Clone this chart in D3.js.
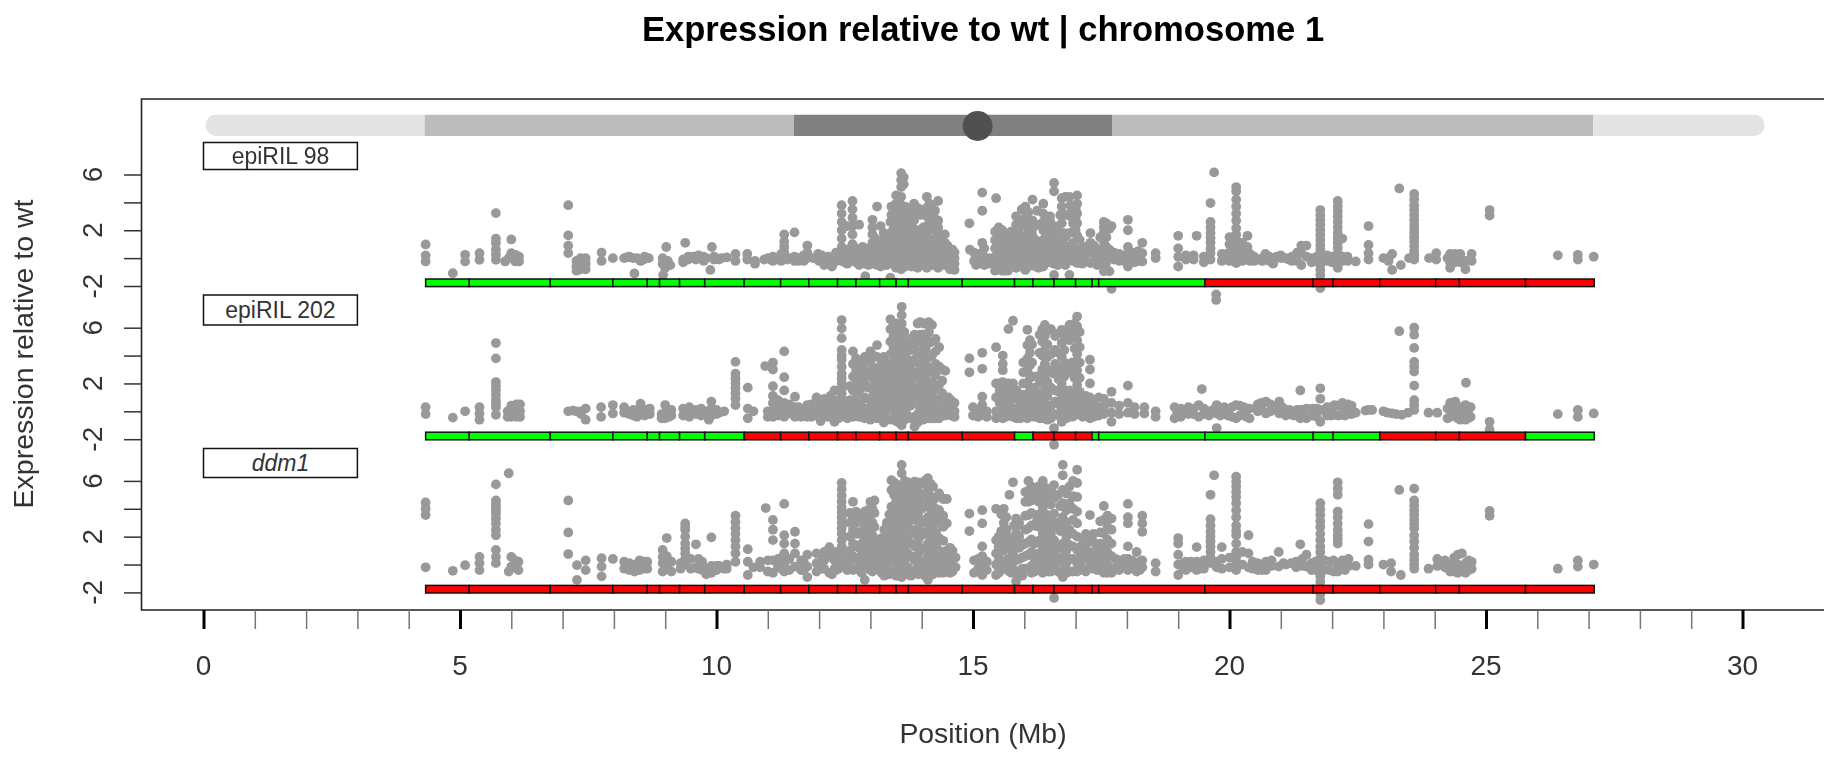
<!DOCTYPE html>
<html>
<head>
<meta charset="utf-8">
<title>Expression relative to wt</title>
<script src="https://cdnjs.cloudflare.com/ajax/libs/d3/7.8.5/d3.min.js"></script>
<style>
  html, body { margin: 0; padding: 0; background: #fff; overflow: hidden; }
  svg { display: block; filter: blur(0.35px); }
  text { font-family: "Liberation Sans", Arial, sans-serif; fill: #333; }
</style>
</head>
<body>
<script>
// panel names, top to bottom
var panelNames = ["epiRIL 98", "epiRIL 202", "ddm1"];

// chromosome ideogram bands (Mb), level 0 = pale .. 2 = dark
var bandStarts = [0.04, 4.31, 11.51, 17.72, 27.09];
var bandEnds = [4.31, 11.51, 17.72, 27.09, 30.43];
var bandLevels = [0, 1, 2, 1, 0];
var centromere = 15.09;

// genotype segments along the chromosome (Mb)
var segmentBreaks = [4.33, 5.18, 6.76, 7.98, 8.65, 8.89, 9.28, 9.77, 10.54, 11.25, 11.80, 12.36, 12.72, 13.18, 13.50, 13.74, 14.79, 15.81, 16.17, 16.58, 17.00, 17.32, 17.45, 19.52, 21.63, 22.02, 22.93, 24.02, 24.48, 25.77, 27.11];
// per panel status of each segment: g = wt, r = met1 derived
var statusRil98 = "gggggggggggggggggggggggrrrrrrr".split("");
var statusRil202 = "ggggggggrrrrrrrrrgrrrgggggrrrg".split("");
var statusDdm1 = "rrrrrrrrrrrrrrrrrrrrrrrrrrrrrr".split("");

// expression values: [position Mb, [values]]
var ril98 = [
  [4.33,[.98,.19,-.24]],[4.86,[-1.08]],[5.1,[.24,-.24]],[5.38,[.36,-.12]],
  [5.7,[3.23,1.39,1.08,.6,.24,-.12]],[5.88,[-.24]],[5.95,[0]],[6.0,[1.34,.36]],[6.08,[.24,-.24]],[6.15,[.1,-.24]],
  [7.11,[3.8,1.63,.89,.36]],[7.27,[-.2,-.6,-.9]],[7.35,[0,-.3,-.8]],[7.45,[0,-.4,-.8]],
  [7.76,[.4,-.2]],[7.98,[0]],[8.2,[0]],[8.3,[.1]],[8.4,[-1.1]],[8.45,[0]],[8.52,[-.2]],[8.6,[.1]],[8.68,[0]],
  [8.95,[0,-.4]],[8.96,[-1.2]],[9.0,[-.7]],[9.02,[.8]],[9.05,[-.2]],[9.1,[-.5]],
  [9.35,[-.1,-.3]],[9.39,[1.1]],[9.45,[.1,-.1]],[9.55,[.1]],[9.65,[.2]],[9.7,[0]],[9.8,[0]],[9.88,[-.85]],[9.91,[.8]],[10.0,[0]],[10.1,[0]],
  [10.37,[.3,-.2]],[10.6,[.3,-.1]],[10.75,[-.2,-.4]],[10.93,[-.1]],[11.0,[0]],[11.1,[.1,-.2]],
  [11.2,[0]],[11.32,[1.7,1.2,.8,.4,0]],[11.45,[0]],[11.52,[1.85]],[11.6,[0,-.2]],[11.77,[.9,.4,0]],[11.88,[0]],
  [11.98,[.3,-.1]],[12.1,[-.2,-.5]],[12.25,[-.6]],[12.3,[.1]],[12.33,[.4]],
  [12.44,[3.8,3.2,2.6,2,1.4,.8,.2,-.2]],[12.55,[2.3,.6,0,-.4]],[12.65,[4.1,3.5,2.9,2.3,1.7,1,.4,-.2]],[12.78,[2.4,.5,0,-.5]],
  [12.9,[.7,.1,-.4,-1.3]],[13.04,[2.75,2.2,1.7,1.1,.5,0,-.4]],[13.13,[3.7,.6,0,-.5]],[13.26,[1.8,1.3,.7,.1,-.5]],
  [13.39,[2.6,1.8,1,.3,-.3,-1.4]],[13.41,[3.7,3.1]],[13.5,[4.5,3.9,3.2,2.5,1.7,1,.4,-.2,-.7]],
  [13.6,[6.1,5.6,5.1,4.4,3.8,3.1,2.4,1.7,1,.3,-.3,-.8]],[13.65,[5.8,5.3,3.3,1.5]],[13.75,[3.4,2.7,1.9,.9,.2,-.4]],
  [13.85,[3.9,3.3,2.7,2,1.3,.7,.1,-.4]],[13.97,[3.5,3.1,1.9,1.3,.7,.1,-.5]],[14.1,[4.4,3.6,3,2.3,1.6,1,.4,-.2,-.7]],
  [14.2,[3.7,3.1,2.5,1.2,.5,0,-.5]],[14.32,[4.1,2.7,2.2,1.7,1,.4,-.2,-.7]],[14.45,[1.7,1.1,.5,0,-.5]],[14.55,[.5,0,-.5,-.8]],[14.64,[.4,0,-.4,-.85]],
  [14.93,[2.5]],[14.94,[.6]],[15.02,[.4,-.2]],[15.1,[.3,-.4]],[15.18,[4.7,3.4,1.1,.3,-.2]],[15.3,[0,-.4]],
  [15.43,[1.9,1.3,.7,.1,-.4,-.9]],[15.45,[4.3]],[15.57,[2,1.1,.5,.1,-.4,-.9]],[15.68,[1.5,.7,0,-.9]],
  [15.84,[3,2.4,2,1.5,1.1,.5,.1,-.4,-.7]],[15.95,[3.5,2.4,1.4,.6,0,-.5]],[16.02,[3.7,2.9,2.3,1.3,.6,.1,-.85]],
  [16.16,[4.2,2.7,2.1,1.6,.9,.1,-.5]],[16.28,[1,.4,-.2,-.7]],[16.37,[3.9,3.2,2.6,2,1.3,.4,-.1,-.6]],[16.47,[2.1,1.1,.4,-.3]],
  [16.58,[5.4,4.8,2.3,1.3,.7,.1,-.4,-1.2]],[16.73,[4.3,3.7,2.5,1.8,1.2,.8,.2,-.1]],[16.8,[4.4,3.1,1.5,.6,0,-.5]],
  [16.88,[4.4,3.2,1.8,.8,-.1,-1.2]],[17.03,[4.5,3.9,3.2,2.5,1.6,.6,0,-.35]],[17.13,[.7,.1,-.4]],
  [17.29,[1.8,1.1,.4,-.35]],[17.42,[.5,0,-.5]],[17.55,[2.6,1.8,1.2,.8,0,-.1,-.95]],[17.66,[2.1,.6,0,-.95]],[17.7,[2.3,-2.2]],
  [17.85,[.3,-.2]],[18.02,[2.75,2,.8,.3,-.6]],[18.15,[.4,0,-.3]],[18.3,[1.1,.36,-.24]],[18.56,[.36,0]],
  [19.0,[1.6,.7,.1,-.6]],[19.15,[.2,-.1]],[19.3,[.2,-.1]],[19.36,[1.6]],[19.5,[.1,-.3]],
  [19.63,[3.95,2.6,1.8,1.1,.36,-.1]],[19.7,[6.15]],[19.74,[-2.6,-3]],[19.85,[.3,-.2]],[20.0,[1.5,1,.4,-.2]],
  [20.13,[5.1,4.8,4.2,3.7,3.2,2.15,1.3,.36,-.35]],[20.25,[1.1,.4,-.2]],[20.35,[1.6,.8,-.1]],[20.48,[.1,-.2]],
  [20.64,[0,-.2]],[20.7,[.3]],[20.85,[0,-.4]],[21.0,[.2,0]],[21.15,[0,-.1]],[21.32,[.4,-.2]],[21.4,[.9,.36,-.5]],[21.5,[.9,.1]],[21.6,[0,-.3]],
  [21.77,[3.45,2.75,2,1.3,.6,-.1,-.85,-1.55,-2.15]],[21.9,[.2,-.2]],
  [22.11,[4.1,3.35,2.6,1.8,1.1,.36,-.24,-.7]],[22.2,[1.4,.1]],[22.3,[.1,-.2]],[22.46,[-.24]],
  [22.71,[2.3,.95,.36,-.1]],[23.0,[0]],[23.1,[0,-.2]],[23.17,[.3,-.85]],[23.31,[5]],[23.34,[-.5]],
  [23.6,[4.6,3.8,3.1,2.4,1.8,1.2,.5,-.1]],[23.5,[0]],[23.89,[0]],[24.03,[.36,-.1]],
  [24.3,[.3,-.3,-.7]],[24.4,[.3,0,-.3]],[24.5,[.3,0,-.3]],[24.6,[-.2,-.8]],[24.72,[.3,-.2]],
  [25.07,[3.45,3.05]],[26.4,[.2]],[26.79,[.24,-.1]],[27.1,[.1]]
];
// points packed inside the dense clouds and stacks of the same line
var ril98Cloud = [
  [12.38,[.4,-.1]],[12.5,[.3,-.3]],[12.6,[.5,-.1]],[12.72,[.7,.2,-.3]],[12.85,[.8,.3,-.2]],[12.96,[.6,.1,-.5]],
  [13.1,[1.4,.9,.3,-.2]],[13.2,[2.3,1,.4,-.2,-.6]],[13.32,[1.4,.9,.4,-.1,-.5]],
  [13.45,[3.4,2.8,2.1,1.4,.7,.1,-.4]],[13.55,[3.5,2.8,2.1,1.3,.7,.1,-.5,-.6]],[13.68,[3.7,3,2.3,1.6,1,.5,-.1,-.6]],
  [13.8,[3.6,3,2.3,1.6,1,.4,-.2,-.6]],[13.92,[3.6,2,1.5,.9,.3,-.3,-.7]],[14.03,[3.4,2.2,1.6,.9,.3,-.3]],
  [14.15,[3.9,2.8,2,1.3,.7,.1,-.5]],[14.26,[3.4,2.8,2,1.4,.7,.1,-.4]],[14.38,[1.4,.8,.2,-.3]],[14.5,[.9,.3,-.2]],[14.6,[.6,.2,-.3]],
  [15.06,[.1,-.5]],[15.22,[.7,0,-.5]],
  [15.5,[2.2,1.6,.9,.3,-.2,-.7]],[15.62,[1.6,.8,.3,-.2,-.9]],[15.74,[1.9,1.1,.5,0,-.5]],[15.9,[2.7,1.8,1.1,.3,-.2,-.6]],
  [16.08,[3.3,2.6,1.8,1,.4,-.2,-.6]],[16.22,[1.3,.6,0,-.6]],[16.25,[3.4,2.4]],[16.33,[.9,.2,-.3]],[16.42,[2.3,1.7,1,.4,-.2]],
  [16.5,[3,2.7]],[16.52,[1.8,.9,.3,-.3]],[16.65,[1.9,1.2,.6,0,-.5]],[16.7,[3.1]],[16.78,[1.8,.9,.3,-.3]],[16.9,[3.8,3]],[16.95,[2.5,1.9,1.1,.4,-.2]],
  [17,[3.5,2.8,2]],[17.08,[1.3,.3,-.2]],[17.2,[.8,.3,-.2]],[17.36,[.9,.3,-.3]],[17.48,[1.5,.6,0,-.4]],[17.55,[2.2,1.5]],[17.6,[2.5,1.5,.8,.3,-.3,-.8]],
  [17.75,[.4,-.1]],[17.95,[.2,-.2]],[18.08,[.1,-.3]],[18.22,[.5,.1,-.2]],
  [8.25,[.05]],[8.37,[0]],[8.58,[-.1]],[9.5,[0]],[9.6,[.1,-.1]],[9.75,[.1,-.2]],[9.95,[.1,-.1]],[10.05,[-.1]],[10.2,[.05]],
  [11.05,[-.1]],[11.15,[-.1]],[11.26,[.3,-.2]],[11.38,[-.1]],[11.52,[.1,-.2]],[11.7,[.2,-.2]],[12,[-.2]],[12.05,[.2]],[12.18,[.1,-.3]],[12.3,[-.3]],
  [19.63,[2.2,1.45,.7]],[19.95,[0,.3]],[20.1,[.1,-.2]],[20.13,[2.7,1.7,.8]],[20.2,[.6]],[20.4,[.3,-.2]],[20.55,[-.1]],[20.78,[.1,-.2]],[20.92,[.1]],
  [21.08,[0]],[21.22,[.1,-.2]],[21.7,[.1,-.2]],[21.77,[3.1,2.4,1.65,.95,.25,-.5,-1.2,-1.85]],[22,[.1,-.3]],[22.11,[3.7,3,2.2,1.45,.75]],[22.2,[-.2]],
  [23.6,[4.2,3.45,2.75,2.1,1.5,.85,.2]],[24.25,[0]]
];

var ril202 = [
  [4.33,[.3,-.2]],[4.86,[-.45]],[5.1,[0]],[5.38,[.3,-.15,-.6]],[5.7,[4.9,3.8,2.1,1.5,.8,.3,-.25]],
  [5.93,[0,-.4]],[6.0,[.4,0,-.4]],[6.1,[.5,0,-.4]],[6.17,[.5,0,-.4]],
  [7.11,[0]],[7.27,[0]],[7.45,[.2,-.6]],[7.75,[.3,-.4]],[7.98,[.45,-.15]],
  [8.2,[.3,-.1]],[8.3,[-.2]],[8.45,[0,-.4]],[8.52,[.55,.1]],[8.6,[.1,-.3]],
  [8.93,[-.2,-.5]],[9.0,[.45,-.15,-.5]],[9.07,[0,-.4]],[9.35,[.2,-.3]],[9.47,[.3,-.4]],[9.6,[.1,-.2]],[9.7,[.2,-.3]],
  [9.85,[-.6]],[9.9,[.7,.2,-.3]],[10.0,[.1,-.2]],[10.15,[0]],
  [10.37,[3.55,2.7,2,1.3,.45]],[10.61,[1.7,.2,-.5]],[10.72,[0]],[10.95,[3.25]],[11.0,[0,-.4]],
  [11.1,[3.5,3,1.8,1.1,.6,-.4]],[11.2,[.8,.2,-.3]],[11.32,[4.3,2.45,1.5,.6,-.4]],[11.42,[.5,0]],[11.53,[1.05,.3,-.4]],[11.65,[.1,-.4]],[11.77,[.45,-.4]],
  [12.03,[.8,0,-.7]],[12.17,[.2,-.4]],[12.3,[1.5,.8,.1,-.75]],
  [12.44,[6.55,5.95,5.25,4.4,3.7,2.7,2,1.3,.6,-.15]],[12.55,[.6,-.15,-.5]],[12.66,[4.3,3.4,2.5,1.5,.6,-.4]],[12.78,[3,2.1,1.2,.3,-.4]],
  [12.89,[3.9,2.9,2,1,.1,-.5]],[13,[4.3,3.5,2.6,1.7,.8,-.1,-.6]],[13.13,[4.75,3.9,2.9,2,1,.1,-.5]],[13.26,[3.9,3,2.1,1.2,.3,-.4,-.8]],
  [13.39,[6.6,5.9,5,4.1,3.2,2.3,1.3,.4,-.6]],[13.5,[6.3,5.4,4.5,3.6,2.7,1.8,.9,0,-.7]],
  [13.61,[7.5,6.9,6.3,5.2,4.3,3.3,2.4,1.4,.5,-.5,-1]],[13.71,[4.9,3.8,2.7,1.7,.8,-.2]],
  [13.86,[5.5,4.7,3.7,2.8,1.7,.8,-.4,-1.1]],[13.97,[6.4,5.5,4.3,3,2.2,1.2,.2,-.5]],[14.08,[6.3,5.4,4.4,3.4,2.5,1.5,.6,-.4]],
  [14.2,[6.2,5,4,3.1,2.1,1.3,.4,-.5]],[14.34,[4.6,3.2,1.9,.9,0,-.5]],[14.46,[2.9,1,.3,-.3]],[14.57,[.8,.1,-.3]],[14.64,[.6,0,-.4]],
  [14.93,[3.8,2.8]],[15,[.3,-.3]],[15.1,[.1,-.4]],[15.18,[4.2,3.05,1.05,.45,-.25]],[15.27,[0,-.4]],
  [15.45,[4.6,2,1,0,-.5]],[15.58,[4,3.4,2.95,2.1,1,0,-.5]],[15.69,[5.9,2,1,-.3]],[15.78,[6.5,2,1,0,-.4]],
  [15.92,[.8,0,-.5]],[16.06,[5.85,4.75,3.8,2.9,2,1,.1,-.5]],[16.15,[4.8,3.5,2.5,1.5,.5,-.3]],
  [16.4,[6.2,5.4,4.4,3.4,2.5,1.5,.6,-.4]],[16.3,[5.5,4.2,2,1,0,-.5]],[16.52,[5.9,4.1,2.8,1.7,.4,-.5]],[16.58,[2.7,-1.2,-1.7,-2.4]],
  [16.73,[5.85,4.9,3.9,3,2,1,.1,-.75]],[16.82,[5.6,3.2,1.2,.4,-.5]],[16.93,[5.7,3.5,2.9,.8,0,-.4]],
  [17.03,[6.8,6.1,5.1,4.1,2.95,1.9,1,.1]],[17.14,[.9,.2,-.4]],[17.28,[3.7,3,2,1,.1,-.5]],[17.45,[1,.3,-.3]],
  [17.7,[1.4,.6,-.1,-.75]],[17.85,[.4,-.2]],[18.02,[1.85,.6,-.1]],[18.15,[.3,-.2]],[18.34,[.3,-.15]],[18.56,[0,-.4]],
  [18.93,[.3,-.5]],[19.05,[.2,-.4]],[19.2,[.3,-.2]],[19.4,[.45,-.4]],[19.46,[1.6]],[19.6,[0,-.3]],[19.75,[.45,-.15,-1.2]],
  [19.9,[.3,-.2]],[20.13,[.45,-.5]],[20.28,[.3,-.15]],[20.39,[.2,-.5]],[20.71,[.7,-.15]],[20.55,[.5,0]],
  [20.97,[.7,-.15]],[21.1,[.1,-.3]],[21.25,[0,-.3]],[21.38,[1.5,.1,-.5]],[21.5,[.2,-.5]],
  [21.77,[1.65,.9,.1,-.75]],[21.9,[.3,-.3]],[22.05,[.45,-.25]],[22.2,[.6,-.25]],[22.31,[.5,-.2]],[22.46,[-.1]],[22.71,[.1]],
  [23,[0]],[23.17,[-.15]],[23.31,[5.75]],[23.36,[-.25]],[23.6,[6,5.5,4.55,3.55,2.85,1.85,.8,.1]],[23.88,[-.1]],[24.05,[-.1]],
  [24.3,[.6,-.4]],[24.4,[.7,-.15]],[24.5,[.3,-.6]],[24.6,[.45,-.6]],[24.61,[2.05]],[24.7,[.3,-.4]],
  [25.07,[-.75,-1.3]],[26.4,[-.2]],[26.79,[.1,-.4]],[27.1,[-.15]]
];
var ril202Cloud = [
  [11.85,[.5,0,-.4]],[11.95,[1,.3,-.3]],[12.1,[.9,.4,-.1]],[12.22,[1.1,.4,-.3]],[12.38,[.5,-.1,-.5]],
  [12.6,[1.8,.8,.2,-.3]],[12.72,[3.8,3,2.3,1.7,.9,.3,-.3]],[12.84,[3.4,2.5,1.7,.9,.3,-.4]],[12.95,[3.5,2.6,1.7,.9,.2,-.3]],
  [13.06,[4,3.1,2.3,1.4,.5,-.2]],[13.2,[3.3,2.5,1.6,.7,0,-.5]],[13.32,[3.4,2.6,1.8,.9,.1,-.5]],
  [13.45,[6.2,5.4,4.6,3.7,2.8,1.9,1,.1,-.5]],[13.55,[5.8,4.9,4,3.1,2.2,1.4,.5,-.3,-.8]],[13.66,[5.7,4.8,3.9,2.9,2,1,.1,-.6]],
  [13.78,[5.2,4.4,3.3,2.2,1.3,.4,-.5]],[13.92,[6.3,5.2,4.1,3.5,2.4,1.5,.6,-.2,-.8]],[14.03,[6.3,5.5,4.9,3.8,2.9,2,1.1,.1,-.6]],
  [14.14,[6.4,5.7,4.9,3.9,2.9,2,1,.1,-.5]],[14.27,[5.2,4.3,3.4,2.6,1.6,.8,.1,-.5]],[14.4,[3,2.2,1.3,.5,-.2]],[14.52,[1,.4,-.2]],
  [15.52,[2,1.5,.6,-.2]],[15.64,[1.6,.7,.1,-.4]],[15.72,[1.4,.5,-.2]],[15.85,[1.5,.9,.2,-.5]],[15.98,[3.5,2.8,2,1.2,.4,-.3]],
  [16.11,[5.1,4.2,3.3,2.4,1.5,.6,-.2]],[16.2,[1.7,.9,.1,-.4]],[16.25,[2.5,1.3,.5,-.3]],[16.35,[5.9,5,4,3,2,1,.2,-.5]],
  [16.45,[5.8,4.8,3.9,3,2.1,1.1,.1,-.6]],[16.6,[5.4,4.4,3.4,1.5,.7,-.2]],[16.67,[5.6,4.2,3,2.3,1.4,.5,-.3]],
  [16.78,[5.4,4.4,3.5,2.5,1.5,.6,-.2]],[16.88,[6.2,5.1,2.8,1.5,.6,-.2]],[16.98,[6.3,5.5,4.5,3.5,2.4,1.4,.5,-.3]],
  [17.08,[5.7,4.6,3.5,2.4,1.4,.5,-.2]],[17.2,[1.1,.4,-.2]],[17.35,[.7,.1,-.4]],[17.55,[.9,.3,-.2]],
  [5.7,[1.8,1.15,.55]],[10.37,[2.35,1.65,.9]],[12.44,[4,3.2,2.35,1.65,.95,.25]],[23.6,[3.2,.45]],
  [7.2,[.05]],[7.36,[0,-.2]],[8.25,[.05]],[8.38,[.1,-.3]],[8.7,[.2,-.2]],[9.12,[.1,-.3]],[9.4,[0]],[9.55,[-.1]],[9.78,[0]],[10.05,[-.1]],
  [11.12,[.1]],[11.27,[.3,-.1]],[11.48,[.1,-.2]],[11.6,[.3,-.2]],[11.72,[.2,-.3]],
  [18.98,[-.1]],[19.12,[-.1]],[19.3,[.2,-.2]],[19.5,[.2,-.2]],[19.68,[.1]],[19.82,[.2,-.3]],[19.97,[.1,-.3]],[20.05,[.3,-.4]],[20.2,[.4,-.3]],[20.33,[.2,-.4]],
  [20.62,[.6,.2]],[20.8,[.5,0]],[20.9,[.3]],[21.03,[.3,-.1]],[21.17,[.1,-.2]],[21.32,[.1,-.3]],[21.45,[.1,-.4]],[21.62,[.2,-.3]],[21.7,[.2,-.4]],
  [21.98,[.3,-.3]],[22.12,[.4,-.3]],[22.25,[.2,-.3]],[22.38,[.4,-.2]],[22.65,[.05]],[22.78,[.1]],[23.08,[-.1]],[23.25,[-.2]],[23.48,[-.1]],
  [24.25,[.2,-.5]],[24.35,[.2,-.3]],[24.45,[0,-.5]],[24.55,[.1,-.5]],[24.65,[0,-.5]]
];

var ddm1 = [
  [4.33,[4.45,4,3.55,-.2]],[4.86,[-.45]],[5.1,[-.05]],[5.38,[.55,.1,-.4]],[5.7,[5.75,4.6,4.15,3.65,2.95,2.1,1.05,.55,.1]],
  [5.95,[6.55,-.5]],[6,[.55,-.15]],[6.07,[.3,-.2]],[6.14,[.2,-.4]],
  [7.11,[4.6,2.3,.75]],[7.28,[-.05,-1.1]],[7.45,[.3,-.4]],[7.76,[.45,-.15,-.85]],[7.98,[.4]],
  [8.2,[.2,-.3]],[8.4,[0,-.5]],[8.5,[.3,-.4]],[8.65,[.2,-.3]],
  [8.95,[1.05,.55,.1,-.5]],[9.03,[1.9,.6,0]],[9.12,[.2,-.5]],[9.39,[2.95,2.5,1.5,.8,0]],[9.5,[.4,-.3]],[9.6,[1.45,-.2]],
  [9.72,[.2,-.4]],[9.8,[-.3,-.7]],[9.9,[1.95,-.1,-.6]],[10,[-.1,-.4]],[10.15,[-.3]],
  [10.37,[3.5,2.6,1.75,.8,.2]],[10.61,[1.1,.2,-.75]],[10.72,[-.2]],[10.96,[4.05]],[11,[.3,-.5]],
  [11.1,[3.2,2.5,1.75,.3,-.6]],[11.2,[.4,-.2]],[11.32,[4.35,2.1,1.5,.8,0,-.5]],[11.42,[.4,-.4]],[11.53,[2.35,1.5,.8,-.15]],
  [11.65,[.3,-.4]],[11.77,[.7,-.15,-.9]],[12.07,[.55,-.3]],[12.2,[1.25,.6,-.6]],[12.25,[.5,-.7]],[12.33,[.5,-.4]],
  [12.44,[5.85,4.95,4.1,3.4,2.6,1.75,.8,0]],[12.55,[.9,.2,-.4]],[12.66,[4.5,3.45,2.5,1.5,.6,-.4]],[12.78,[3.3,2.2,1.2,.3,-.4]],
  [12.89,[3.8,2.95,2,1.05,.1,-1.1]],[13,[4.5,3.6,2.5,1.5,.5,-.4]],[13.08,[4.6,3.7,2.7,1.75,.8,-.15]],[13.22,[1.9,1,.1,-.6]],
  [13.32,[3,2,1,0,-.6]],[13.41,[6.05,5.35,4.15,3.2,2.2,1.3,.3,-.6]],[13.5,[5.6,4.5,3.5,2.5,1.5,.6,-.3,-.8]],
  [13.61,[7.15,6.55,5.6,4.6,3.7,2.7,1.75,.8,-.15,-.9]],[13.73,[5.9,4.9,3.8,2.8,1.8,.8,-.2,-.7]],
  [13.86,[5.95,5.1,4.1,3.2,2.2,1.3,.3,-.6]],[14,[5.8,4.9,4,3,2.1,1.1,.1,-.6]],[14.12,[6.2,5.35,4.4,3.4,2.5,1.5,.6,-.4,-1.1]],
  [14.22,[5.6,4.6,3.6,2.6,1.7,.8,-.2,-.7]],[14.34,[5.1,3.9,3,1.9,1,.1,-.6]],[14.49,[4.7,2.95,1,.3,-.5]],[14.6,[1,.1,-.5]],[14.66,[.5,-.2]],
  [14.93,[3.65,2.4]],[15.02,[.3,-.6]],[15.1,[.4,-.3]],[15.18,[3.9,2.95,1.3,.6,-.15,-.75]],[15.27,[.2,-.4]],
  [15.45,[4,1.75,.8,0,-.75]],[15.52,[1.2,.3,-.5]],[15.6,[4,3,2.1,1,.1]],[15.71,[5,1.2,.2,-.5]],[15.78,[5.9,.8,-.3]],
  [15.84,[3.3,2.25,1.3,.3,-.6,-1.2]],[15.96,[1.4,.5,-.3,-.8]],[16.08,[6,5.3,4.5,3.55,2.6,1.6,.7,-.3]],[16.2,[5.1,2.8,1.5,.4,-.5]],
  [16.36,[6,5.1,4.1,3.2,2.2,1.3,.3,-.6]],[16.47,[4.8,3.5,1.9,.9,0,-.5]],[16.58,[5.7,4.75,3.65,2.7,1.75,.8,-.15,-2.4]],
  [16.66,[5,3,1.2,.2,-.5]],[16.75,[7.15,6.4,5.35,4.4,3.4,2.5,1.5,.6,-.4,-.9]],[16.88,[5.6,4.4,2.5,1.4,.4,-.5]],
  [17.03,[6.8,5.85,4.85,3.8,2.95,2,1.05,.1,-.5]],[17.15,[1.6,.4,-.4]],[17.28,[3.55,1.75,.8,-.15]],[17.42,[1.1,.3,-.4]],
  [17.55,[4.2,3.2,2.25,1.3,.3,-.6]],[17.7,[3.3,2.5,1.5,.6,-.6]],[17.85,[.3,-.4]],[18.02,[4.35,3.4,2.95,1.3,.4,-.4]],
  [18.19,[.9,.1,-.5]],[18.3,[3.5,2.95,2.35,.3,-.2]],[18.56,[.1,-.5]],
  [19,[1.9,1.5,.7,0,-.75]],[19.15,[.2,-.4]],[19.36,[1.25,.2,-.4]],[19.5,[.3,-.3]],[19.63,[5,3.25,2.35,1.65,.9,.1]],[19.7,[6.4]],
  [19.85,[1.25,.4,-.3]],[20.13,[6.3,5.6,4.85,3.9,2.8,2.1,.9,.1,-.4]],[20.25,[.9,0]],[20.37,[2.1,.8,-.2]],[20.55,[.1,-.4]],
  [20.71,[.2,-.4]],[20.96,[.9,-.15]],[21.1,[0]],[21.38,[1.45]],[21.3,[.2,-.2]],[21.5,[.7,-.15]],[21.6,[.1,-.4]],
  [21.77,[4.4,3.55,2.7,1.75,.9,0,-.85,-1.7,-2.55]],[21.95,[.2,-.4]],[22.11,[5.9,5,3.8,2.95,2.1,1.5,0,-.5]],[22.25,[.2,-.4]],
  [22.46,[-.1]],[22.71,[2.9,1.65,.35,0]],[23,[0]],[23.15,[.1,-.5]],[23.31,[5.35]],[23.34,[-.75]],
  [23.6,[5.45,4.6,3.9,3.2,2.6,1.65,.7,0,-.3]],[23.88,[-.3]],[24.05,[.4,-.1]],
  [24.3,[0,-.5]],[24.45,[.7,0,-.6]],[24.6,[.1,-.6]],[24.72,[.2,-.3]],
  [25.07,[3.85,3.5]],[26.4,[-.3]],[26.79,[.3,-.15]],[27.1,[0]]
];
var ddm1Cloud = [
  [11.95,[.8,.1,-.5]],[12.1,[.9,.3,-.3]],[12.3,[.9,.3,-.3]],[12.38,[.8,.2,-.3]],[12.6,[3.7,3,2,1,.2]],
  [12.72,[3.8,3,2.2,1.3,.4,-.3]],[12.83,[3.1,2.4,1.5,.7,-.1,-.6]],[12.95,[3.9,3.3,2.5,1.6,.7,-.1]],[13.04,[4,3,2.1,1.1,.2,-.5]],
  [13.16,[1.5,.6,-.2]],[13.27,[2.5,1.4,.5,-.3,-.8]],[13.37,[3.6,2.7,1.8,.9,.1,-.7]],[13.46,[5.9,5,4.1,3,2,1,.1,-.6]],
  [13.55,[5.7,5,4,3,2.1,1.1,.2,-.4,-.8]],[13.67,[6,5.1,4.2,3.3,2.3,1.3,.3,-.5]],[13.79,[5.5,4.5,3.5,2.5,1.5,.6,-.4,-.8]],
  [13.93,[5.9,5.3,4.5,3.5,2.6,1.7,.7,-.2,-.7]],[14.06,[6,5,4.2,3.1,2.2,1.2,.2,-.5,-.8]],[14.17,[5.8,4.9,4,3,2,1.1,.1,-.6]],
  [14.28,[4.8,4,3.3,2.3,1.4,.5,-.4]],[14.42,[4.7,3.5,2.7,1.7,.7,-.1,-.6]],[14.55,[1.2,.5,-.2,-.6]],
  [15.5,[2,1.5,1.3,.6,.2,-.2,-.6]],[15.55,[3.6,2.4,1.6]],[15.65,[3.4,2.5,1.6]],[15.68,[2,1.2,.4,-.4]],[15.75,[.3,-.6]],[15.8,[2.8,1.8]],[15.87,[2.8,1.7]],
  [15.9,[3,2,1.2,.4,-.5]],[16.02,[5.2,4.5,3.5,2.5,1.5,.6,-.3]],[16.1,[4.9]],
  [16.14,[5.6,4.6,3.7,2.8,1.8,.9,-.1,-.6]],[16.25,[4.8,3.2]],[16.28,[5.6,4.5,3.6,2.7,1.7,.8,-.2]],[16.42,[5.5,4.6,3.6,2.7,1.6,.7,-.3]],
  [16.52,[5.3,4.3,3.2,2.2,1.2,.3,-.5]],[16.7,[4.2,2.4,1.3,.3,-.6]],[16.82,[5.1,3.9,3,2,1,.1,-.6]],[16.95,[6,4.9,4,3.2,2.2,1.3,.4,-.5]],
  [17.1,[1.3,.6,-.1]],[17.2,[2.2,1.2,.9,.4,-.5]],[17.35,[2.2,1.6,.9,.3,-.3]],[17.48,[3.1,2.3,1.5,.7,0]],[17.62,[3.5,2.7,1.8,.9,0,-.6]],
  [17.78,[.4,-.2]],[17.95,[.4,-.1]],[18.1,[.3,-.2]],[18.25,[.2,-.4]],
  [5.7,[4.35,3.9,3.3,2.5]],[9.39,[2.7,2,1.15,.4]],[10.37,[3.05,2.2,1.3]],[12.44,[5.4,4.5,3.75,3,2.2,1.3,.4]],
  [8.3,[.1,-.4]],[8.58,[.2,-.3]],[9.3,[.1,-.3]],[9.65,[.4,-.3]],[9.85,[-.5]],[10.05,[-.1]],[10.2,[0,-.3]],[10.85,[.2,-.2]],[11.27,[.5,-.3]],[11.7,[.2,-.4]],
  [19.1,[.1,-.3]],[19.25,[.2,-.2]],[19.42,[.1,-.3]],[19.63,[2.8,2,1.3,.5]],[19.75,[.2,-.2]],[20,[.5,-.2]],[20.13,[5.95,5.2,4.4,3.4,2.4,1.5,.5]],
  [20.45,[.2,-.3]],[20.63,[-.1,-.4]],[20.82,[.3,-.1]],[21.05,[.1]],[21.2,[.1]],[21.42,[.4,-.1]],[21.68,[.2,-.4]],
  [21.77,[3.95,3.1,2.2,1.3,.45,-.4,-1.25,-2.1]],[21.85,[.3,-.4]],[22.03,[.3,-.5]],[22.11,[5.45,3.4,2.5,1.8]],[22.2,[.3,-.3]],[22.32,[.4,-.1]],
  [23.6,[4.25,3.55,2.9,2.1,1.2,.35]],[24.2,[.3,-.2]],[24.38,[.5,-.5]],[24.53,[.8,-.3]],[24.66,[.3,-.4]]
];
var panelData = [ril98.concat(ril98Cloud), ril202.concat(ril202Cloud), ddm1.concat(ddm1Cloud)];
var panelStatus = [statusRil98, statusRil202, statusDdm1];

var xTicks = d3.range(0, 31);
var xLabelled = [0, 5, 10, 15, 20, 25, 30];
var yTicks = [-2, 0, 2, 4, 6];
var yLabelled = [-2, 2, 6];

var width = 1824, height = 757;
var panelStep = 153.2;

var svg = d3.select("body").append("svg")
    .attr("width", width)
    .attr("height", height);

var x = d3.scaleLinear().domain([0, 30]).range([203.5, 1742.5]);
var bandColor = d3.scaleOrdinal().domain([0, 1, 2]).range(["#e4e4e4", "#bcbcbc", "#808080"]);
var statusColor = d3.scaleOrdinal().domain(["g", "r"]).range(["#00ff00", "#ff0000"]);

// title and axis titles
svg.append("text")
    .attr("x", 983).attr("y", 41)
    .attr("text-anchor", "middle")
    .style("font-size", "34.6px").style("font-weight", "bold").style("fill", "#000")
    .text("Expression relative to wt | chromosome 1");
svg.append("text")
    .attr("x", 983).attr("y", 743)
    .attr("text-anchor", "middle")
    .style("font-size", "28.4px")
    .text("Position (Mb)");
svg.append("text")
    .attr("transform", "translate(33,354) rotate(-90)")
    .attr("text-anchor", "middle")
    .style("font-size", "28.5px")
    .text("Expression relative to wt");

// plot frame, runs off the right of the picture
svg.append("path")
    .attr("d", "M" + width + ",99H141.5V610H" + width)
    .attr("fill", "none").attr("stroke", "#222").attr("stroke-width", 1.6);

// chromosome ideogram
var bandY = 114.5, bandH = 21.5;
var clipId = svg.append("clipPath").attr("id", "chromClip");
clipId.append("rect")
    .attr("x", x(bandStarts[0])).attr("y", bandY)
    .attr("width", x(bandEnds[bandEnds.length - 1]) - x(bandStarts[0]))
    .attr("height", bandH).attr("rx", bandH / 2);
svg.append("g").attr("clip-path", "url(#chromClip)")
    .selectAll("rect").data(bandStarts).enter().append("rect")
    .attr("x", function(d){ return x(d); })
    .attr("y", bandY)
    .attr("width", function(d, i){ return x(bandEnds[i]) - x(d); })
    .attr("height", bandH)
    .attr("fill", function(d, i){ return bandColor(bandLevels[i]); });
svg.append("ellipse")
    .attr("cx", x(centromere)).attr("cy", 126)
    .attr("rx", 15).attr("ry", 15)
    .attr("fill", "#505050");

// one row per line
panelNames.forEach(function(name, p){
    var dy = p * panelStep;
    var y = d3.scaleLinear().domain([-2, 6]).range([286 + dy, 174.5 + dy]);

    var yAxis = d3.axisLeft(y).tickValues(yTicks).tickSize(17.5).tickFormat("");
    var axisG = svg.append("g").attr("transform", "translate(141.5,0)").call(yAxis);
    axisG.select(".domain").remove();
    axisG.selectAll("line").attr("stroke", "#333").attr("stroke-width", 1.5);
    axisG.selectAll(".lab").data(yLabelled).enter().append("text")
        .attr("class", "lab")
        .attr("transform", function(d){ return "translate(-40," + y(d) + ") rotate(-90)"; })
        .attr("text-anchor", "middle")
        .style("font-size", "28px")
        .text(function(d){ return d; });

    // sample label box spanning 0-3 Mb
    var boxY = [142.5, 295, 448.5][p], boxH = [27, 30, 29][p];
    svg.append("rect")
        .attr("x", x(0)).attr("y", boxY)
        .attr("width", x(3) - x(0)).attr("height", boxH)
        .attr("fill", "#fff").attr("stroke", "#111").attr("stroke-width", 1.5);
    svg.append("text")
        .attr("x", (x(0) + x(3)) / 2).attr("y", boxY + boxH / 2 + 7.5)
        .attr("text-anchor", "middle")
        .style("font-size", "23px")
        .style("font-style", name == "ddm1" ? "italic" : "normal")
        .text(name);

    // expression points
    var pts = [];
    panelData[p].forEach(function(col){
        col[1].forEach(function(v){ pts.push([col[0], v]); });
    });
    svg.append("g").selectAll("circle").data(pts).enter().append("circle")
        .attr("cx", function(d){ return x(d[0]); })
        .attr("cy", function(d){ return y(d[1]); })
        .attr("r", 4.9)
        .attr("fill", "#999999");

    // genotype segments drawn over the points
    svg.append("g").selectAll("rect").data(panelStatus[p]).enter().append("rect")
        .attr("x", function(d, i){ return x(segmentBreaks[i]); })
        .attr("y", y(-2) - 7)
        .attr("width", function(d, i){ return x(segmentBreaks[i + 1]) - x(segmentBreaks[i]); })
        .attr("height", 7.6)
        .attr("fill", function(d){ return statusColor(d); })
        .attr("stroke", "#111").attr("stroke-width", 1.5);
});

// x axis with heavy ticks every 5 Mb
var xAxis = d3.axisBottom(x).tickValues(xTicks).tickSize(19).tickFormat("");
var xG = svg.append("g").attr("transform", "translate(0,610)").call(xAxis);
xG.select(".domain").remove();
xG.selectAll("line")
    .attr("stroke", function(d){ return d % 5 == 0 ? "#000" : "#777"; })
    .attr("stroke-width", function(d){ return d % 5 == 0 ? 3 : 1.5; });
xG.selectAll(".lab").data(xLabelled).enter().append("text")
    .attr("class", "lab")
    .attr("x", function(d){ return x(d); })
    .attr("y", 65)
    .attr("text-anchor", "middle")
    .style("font-size", "28px")
    .text(function(d){ return d; });
</script>
</body>
</html>
